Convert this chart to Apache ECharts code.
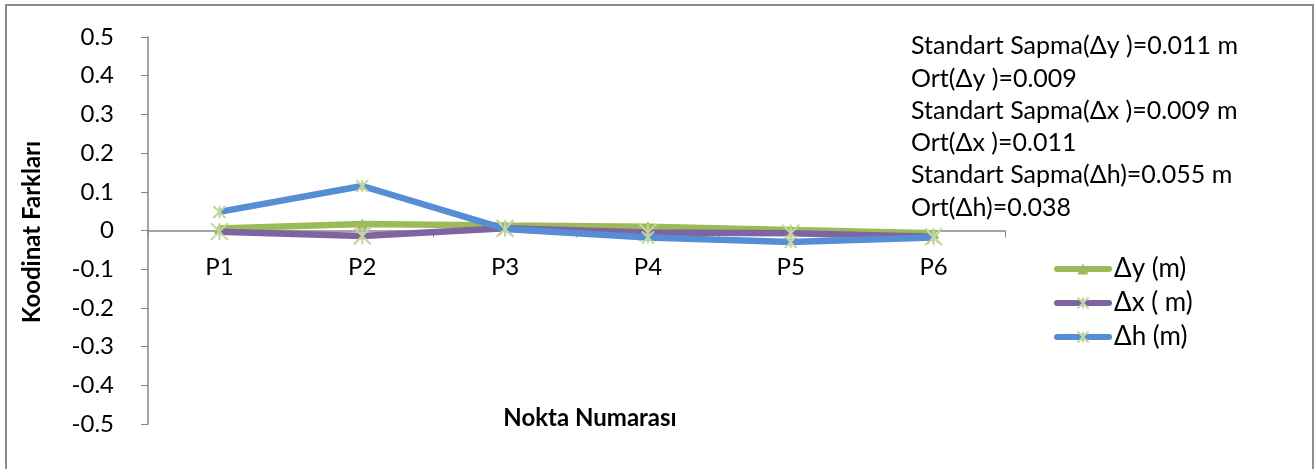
<!DOCTYPE html>
<html>
<head>
<meta charset="utf-8">
<script src="https://cdn.jsdelivr.net/npm/echarts@6/dist/echarts.min.js"></script>
<style>
  html, body { margin: 0; padding: 0; background: #fff; }
  #chart { width: 1316px; height: 469px; }
</style>
</head>
<body>
<div id="chart"></div>
<script>
// Point labels along the category axis
const points = ['P1', 'P2', 'P3', 'P4', 'P5', 'P6'];

// Coordinate differences (m) per point
const dY = [0.005, 0.017, 0.013, 0.010, 0.001, -0.007];
const dX = [-0.003, -0.014, 0.006, -0.005, -0.007, -0.016];
const dH = [0.048, 0.115, 0.004, -0.018, -0.030, -0.018];

// Value axis range and step
const yMin = -0.5, yMax = 0.5, yStep = 0.1;

// Summary statistics printed beside the plot
const statLines = [
  'Standart Sapma(Δy )=0.011 m',
  'Ort(Δy )=0.009',
  'Standart Sapma(Δx )=0.009 m',
  'Ort(Δx )=0.011',
  'Standart Sapma(Δh)=0.055 m',
  'Ort(Δh)=0.038'
];

const seriesNames = ['Δy (m)', 'Δx ( m)', 'Δh (m)'];

const FONT = "Lato, 'Noto Sans', sans-serif";
const axisGray = '#868686';
const markGreen = '#c3d69b';

// Asterisk-style markers drawn as stroked paths
const starPath = 'path://M0,0L20,20M20,0L0,20M10,0L10,20';

const GRID_TOP = 37, GRID_BOTTOM = 45, CHART_H = 469;
// Lift the category axis onto the zero line of the value axis
const zeroShift = (CHART_H - GRID_TOP - GRID_BOTTOM) * (0 - yMin) / (yMax - yMin);

const chart = echarts.init(document.getElementById('chart'), null, { renderer: 'canvas' });

chart.setOption({
  animation: false,
  backgroundColor: '#fff',
  textStyle: { fontFamily: FONT },
  grid: { left: 148, right: 311, top: GRID_TOP, bottom: GRID_BOTTOM, containLabel: false },
  xAxis: {
    type: 'category',
    data: points,
    boundaryGap: true,
    offset: -zeroShift,
    axisLine: { onZero: false, lineStyle: { color: axisGray, width: 1.5 } },
    axisTick: { show: true, inside: false, length: 7, lineStyle: { color: axisGray } },
    axisLabel: { color: '#000', fontSize: 24, fontFamily: FONT, margin: 25 },
    splitLine: { show: false }
  },
  yAxis: {
    type: 'value',
    min: yMin,
    max: yMax,
    interval: yStep,
    axisLine: { show: true, lineStyle: { color: axisGray, width: 1.5 } },
    axisTick: { show: true, length: 7, lineStyle: { color: axisGray } },
    axisLabel: {
      color: '#000', fontSize: 24, fontFamily: FONT, margin: 34,
      formatter: v => {
        const r = Math.round(v * 10) / 10;
        return r === 0 ? '0' : r.toFixed(1);
      }
    },
    splitLine: { show: false }
  },
  legend: {
    orient: 'vertical',
    left: 1049,
    top: 251,
    itemWidth: 52,
    itemHeight: 14,
    itemGap: 8,
    textStyle: { color: '#000', fontSize: 26, fontFamily: FONT },
    lineStyle: { width: 6, cap: 'round' },
    data: seriesNames
  },
  series: [
    {
      name: seriesNames[0],
      type: 'line',
      data: dY,
      lineStyle: { color: '#9bbb59', width: 6.5 },
      itemStyle: { color: '#9bbb59' },
      symbol: 'triangle',
      symbolSize: 11,
      z: 2
    },
    {
      name: seriesNames[1],
      type: 'line',
      data: dX,
      lineStyle: { color: '#8064a2', width: 6.5 },
      itemStyle: { color: 'rgba(0,0,0,0)', borderColor: markGreen, borderWidth: 2 },
      symbol: starPath,
      symbolSize: 17,
      z: 3
    },
    {
      name: seriesNames[2],
      type: 'line',
      data: dH,
      lineStyle: { color: '#558ed5', width: 6.5 },
      itemStyle: { color: 'rgba(0,0,0,0)', borderColor: markGreen, borderWidth: 2 },
      symbol: starPath,
      symbolSize: 12,
      z: 4
    }
  ],
  graphic: [
    {
      type: 'rect',
      shape: { x: 6, y: 5, width: 1307, height: 480 },
      style: { fill: 'none', stroke: '#8c8c8c', lineWidth: 2 },
      silent: true
    },
    {
      type: 'text',
      left: 911,
      top: 30,
      style: {
        text: statLines.join('\n'),
        font: '25px ' + FONT,
        fill: '#000',
        lineHeight: 32.3
      }
    },
    {
      type: 'text',
      x: 32,
      y: 232,
      rotation: Math.PI / 2,
      style: {
        text: 'Koodinat Farkları',
        font: 'bold 24px ' + FONT,
        fill: '#000',
        align: 'center',
        verticalAlign: 'middle'
      }
    },
    {
      type: 'text',
      x: 590,
      y: 418,
      style: {
        text: 'Nokta Numarası',
        font: 'bold 24px ' + FONT,
        fill: '#000',
        align: 'center',
        verticalAlign: 'middle'
      }
    }
  ]
});
</script>
</body>
</html>
